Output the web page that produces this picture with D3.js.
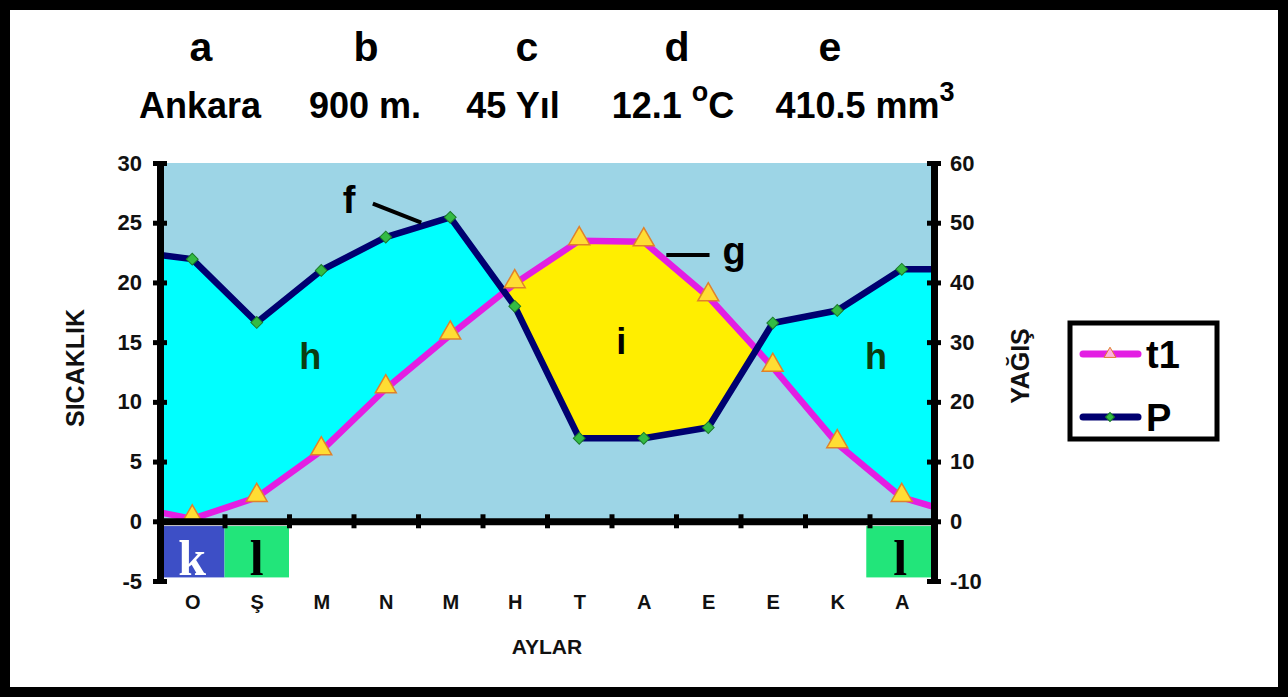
<html>
<head>
    <title>Ankara iklim grafiği</title>
    <script src="https://d3js.org/d3.v7.min.js"></script>
</head>
<style>
    body { margin: 0; background: #fff; }
    text { font-family: "Liberation Sans", Arial, sans-serif; font-weight: bold; }
    .serif { font-family: "Liberation Serif", "Times New Roman", serif; }
</style>
<body>
<script>
    // ---- data ----
    let months = ["O", "Ş", "M", "N", "M", "H", "T", "A", "E", "E", "K", "A"];
    let temps = [0.2, 2.0, 5.9, 11.1, 15.6, 19.9, 23.5, 23.4, 18.8, 12.9, 6.5, 2.0];
    let precip = [43.9, 33.3, 42.0, 47.6, 50.9, 36.0, 13.9, 13.9, 15.7, 33.2, 35.3, 42.2];
    // values where the lines meet the left / right plot edge
    let tempEdges = [0.75, 1.2];
    let precipEdges = [44.6, 42.2];
    let tempTicks = [-5, 0, 5, 10, 15, 20, 25, 30];
    let precipTicks = [-10, 0, 10, 20, 30, 40, 50, 60];
    let headLetters = ["a", "b", "c", "d", "e"];
    // odd parts are written as superscript
    let headValues = [["Ankara"], ["900 m."], ["45 Yıl"], ["12.1 ", "o", "C"], ["410.5 mm", "3"]];
    let legendNames = ["t1", "P"];

    let svgwidth = 1288, svgheight = 698;
    let margin = { top: 163, left: 160 };
    let width = 774, height = 418;

    let colT = "#e31ee3", colP = "#000070";

    let svg = d3.select("body").append("svg")
        .attr("width", svgwidth)
        .attr("height", svgheight);

    // outer frame
    svg.append("rect")
        .attr("x", 5).attr("y", 5)
        .attr("width", svgwidth - 10).attr("height", svgheight - 11)
        .attr("fill", "white").attr("stroke", "black").attr("stroke-width", 10);

    // header
    let letterX = [201, 366, 527, 677, 830];
    let valueX = [200, 365, 513, 673, 865];
    svg.selectAll(".head1").data(headLetters).enter().append("text")
        .attr("x", (d, i) => letterX[i]).attr("y", 61)
        .attr("text-anchor", "middle").attr("font-size", 41)
        .text(d => d);
    svg.selectAll(".head2").data(headValues).enter().append("text")
        .attr("x", (d, i) => valueX[i]).attr("y", 118)
        .attr("text-anchor", "middle").attr("font-size", 36)
        .each(function (parts) {
            let t = d3.select(this);
            parts.forEach((p, k) => {
                let ts = t.append("tspan").text(p);
                if (k % 2 == 1) ts.attr("font-size", 27).attr("dy", -17);
                else if (k > 0) ts.attr("dy", 17);
            });
        });

    let g = svg.append("g")
        .attr("transform", "translate(" + margin.left + "," + margin.top + ")");

    let x = d3.scaleLinear().domain([-0.5, 11.5]).range([0, width]);
    let yT = d3.scaleLinear().domain([-5, 30]).range([height, 0]);
    let yP = d3.scaleLinear().domain([-10, 60]).range([height, 0]);

    let series = [{ i: -0.5, t: tempEdges[0], p: precipEdges[0], edge: true }]
        .concat(months.map((m, i) => ({ i: i, t: temps[i], p: precip[i] })))
        .concat([{ i: 11.5, t: tempEdges[1], p: precipEdges[1], edge: true }]);
    let pts = series.filter(d => !d.edge);

    // plot background (only above zero line)
    g.append("rect")
        .attr("x", 0).attr("y", 0)
        .attr("width", width).attr("height", yT(0))
        .attr("fill", "#9dd5e6");

    // humid / arid fills between the curves
    let defs = svg.append("defs");
    defs.append("clipPath").attr("id", "aboveT").append("path")
        .attr("d", d3.area().x(d => x(d.i)).y0(-5).y1(d => yT(d.t))(series));
    defs.append("clipPath").attr("id", "aboveP").append("path")
        .attr("d", d3.area().x(d => x(d.i)).y0(-5).y1(d => yP(d.p))(series));

    let between = d3.area().x(d => x(d.i)).y0(d => yT(d.t)).y1(d => yP(d.p));
    g.append("path").attr("d", between(series))
        .attr("fill", "#00ffff").attr("clip-path", "url(#aboveT)");
    g.append("path").attr("d", between(series))
        .attr("fill", "#ffee00").attr("clip-path", "url(#aboveP)");

    // lines
    let lineT = d3.line().x(d => x(d.i)).y(d => yT(d.t));
    let lineP = d3.line().x(d => x(d.i)).y(d => yP(d.p));
    g.append("path").attr("d", lineT(series))
        .attr("fill", "none").attr("stroke", colT).attr("stroke-width", 6.5)
        .attr("stroke-linejoin", "round");
    g.append("path").attr("d", lineP(series))
        .attr("fill", "none").attr("stroke", colP).attr("stroke-width", 6.5)
        .attr("stroke-linejoin", "round");

    // markers
    let tri = d3.symbol().type(d3.symbolTriangle).size(190);
    let dia = d3.symbol().type(d3.symbolSquare).size(70);
    g.selectAll(".mT").data(pts).enter().append("path")
        .attr("d", tri)
        .attr("transform", d => "translate(" + x(d.i) + "," + (yT(d.t) - 2) + ")")
        .attr("fill", "#ffdd33").attr("stroke", "#e0822a").attr("stroke-width", 1.5);
    g.selectAll(".mP").data(pts).enter().append("path")
        .attr("d", dia)
        .attr("transform", d => "translate(" + x(d.i) + "," + yP(d.p) + ") rotate(45)")
        .attr("fill", "#33bb44").attr("stroke", "#1b7a2a").attr("stroke-width", 1);

    // boxes under the zero line
    let boxes = [
        { a: -0.5, b: 0.5, fill: "#3d4fc6", txt: "k", col: "white" },
        { a: 0.5, b: 1.5, fill: "#22e57a", txt: "l", col: "black" },
        { a: 10.45, b: 11.5, fill: "#22e57a", txt: "l", col: "black" }
    ];
    g.selectAll(".box").data(boxes).enter().append("rect")
        .attr("x", d => x(d.a)).attr("y", yT(-0.4))
        .attr("width", d => x(d.b) - x(d.a)).attr("height", yT(-4.7) - yT(-0.4))
        .attr("fill", d => d.fill);
    g.selectAll(".boxt").data(boxes).enter().append("text")
        .attr("class", "serif")
        .attr("x", d => (x(d.a) + x(d.b)) / 2).attr("y", yT(-4.5))
        .attr("text-anchor", "middle").attr("font-size", 50)
        .attr("fill", d => d.col)
        .text(d => d.txt);

    // annotations
    g.append("line")
        .attr("x1", x(2.8)).attr("y1", yT(26.6)).attr("x2", x(3.55)).attr("y2", yT(25.0))
        .attr("stroke", "black").attr("stroke-width", 4);
    g.append("text").attr("x", x(2.43)).attr("y", yT(26.9)).attr("dy", "0.35em")
        .attr("text-anchor", "middle").attr("font-size", 38).text("f");
    g.append("line")
        .attr("x1", x(7.35)).attr("y1", yT(22.3)).attr("x2", x(8.02)).attr("y2", yT(22.3))
        .attr("stroke", "black").attr("stroke-width", 4);
    g.append("text").attr("x", x(8.4)).attr("y", yT(22.3)).attr("dy", "0.25em")
        .attr("text-anchor", "middle").attr("font-size", 38).text("g");
    g.append("text").attr("x", x(1.83)).attr("y", yT(13.8)).attr("dy", "0.35em")
        .attr("text-anchor", "middle").attr("font-size", 36).attr("fill", "#0b3d10").text("h");
    g.append("text").attr("x", x(10.6)).attr("y", yT(13.8)).attr("dy", "0.35em")
        .attr("text-anchor", "middle").attr("font-size", 36).attr("fill", "#0b3d10").text("h");
    g.append("text").attr("x", x(6.65)).attr("y", yT(15.1)).attr("dy", "0.35em")
        .attr("text-anchor", "middle").attr("font-size", 36).text("i");

    // x axis on zero line with ticks at month borders
    let xAxis = g.append("g")
        .attr("transform", "translate(0," + yT(0) + ")")
        .call(d3.axisBottom(x).tickValues(d3.range(11).map(i => i + 0.5)).tickSize(7).tickFormat(""));
    xAxis.select(".domain").attr("stroke-width", 7);
    xAxis.selectAll(".tick line").attr("y1", -7).attr("stroke-width", 5);

    // month labels
    let mAxis = g.append("g")
        .attr("transform", "translate(0," + height + ")")
        .call(d3.axisBottom(x).tickValues(d3.range(12)).tickSize(0).tickPadding(14)
            .tickFormat(i => months[i]));
    mAxis.select(".domain").remove();
    mAxis.selectAll("text").attr("font-size", 20).attr("fill", "#111");

    // left axis
    let yAxisL = g.append("g")
        .call(d3.axisLeft(yT).tickValues(tempTicks).tickSize(7).tickSizeOuter(0).tickPadding(11)
            .tickFormat(d => String(d)));
    yAxisL.select(".domain").attr("stroke-width", 7);
    yAxisL.selectAll(".tick line").attr("x1", 7).attr("stroke-width", 5);
    yAxisL.selectAll("text").attr("font-size", 22).attr("fill", "#111");

    // right axis
    let yAxisR = g.append("g")
        .attr("transform", "translate(" + width + ",0)")
        .call(d3.axisRight(yP).tickValues(precipTicks).tickSize(7).tickSizeOuter(0).tickPadding(9)
            .tickFormat(d => String(d)));
    yAxisR.select(".domain").attr("stroke-width", 7);
    yAxisR.selectAll(".tick line").attr("x1", -7).attr("stroke-width", 5);
    yAxisR.selectAll("text").attr("font-size", 22).attr("fill", "#111");

    // axis titles
    g.append("text")
        .attr("transform", "translate(" + (-76) + "," + (height / 2 - 4) + ") rotate(-90)")
        .attr("text-anchor", "middle").attr("font-size", 25).attr("fill", "#111")
        .text("SICAKLIK");
    g.append("text")
        .attr("transform", "translate(" + (width + 95) + "," + (height / 2 - 6) + ") rotate(-90)")
        .attr("text-anchor", "middle").attr("font-size", 25).attr("fill", "#111")
        .text("YAĞIŞ");
    g.append("text")
        .attr("x", x(5.5)).attr("y", height + 73)
        .attr("text-anchor", "middle").attr("font-size", 21).attr("fill", "#111")
        .text("AYLAR");

    // legend
    let leg = svg.append("g").attr("transform", "translate(1070,323)");
    leg.append("rect").attr("width", 147).attr("height", 116)
        .attr("fill", "white").attr("stroke", "black").attr("stroke-width", 5);
    let legCols = [colT, colP];
    legendNames.forEach((n, k) => {
        let yy = 31 + k * 63;
        leg.append("line").attr("x1", 13).attr("x2", 68).attr("y1", yy).attr("y2", yy)
            .attr("stroke", legCols[k]).attr("stroke-width", 7).attr("stroke-linecap", "round");
        leg.append("path")
            .attr("d", k == 0 ? d3.symbol().type(d3.symbolTriangle).size(60)() : d3.symbol().type(d3.symbolSquare).size(40)())
            .attr("transform", "translate(40," + yy + ")" + (k == 1 ? " rotate(45)" : ""))
            .attr("fill", k == 0 ? "#ffb0e0" : "#33bb44")
            .attr("stroke", k == 0 ? "#e0822a" : "#1b7a2a");
        leg.append("text").attr("x", 76).attr("y", yy).attr("dy", "0.36em")
            .attr("font-size", 38).text(n);
    });
</script>
</body>
</html>
